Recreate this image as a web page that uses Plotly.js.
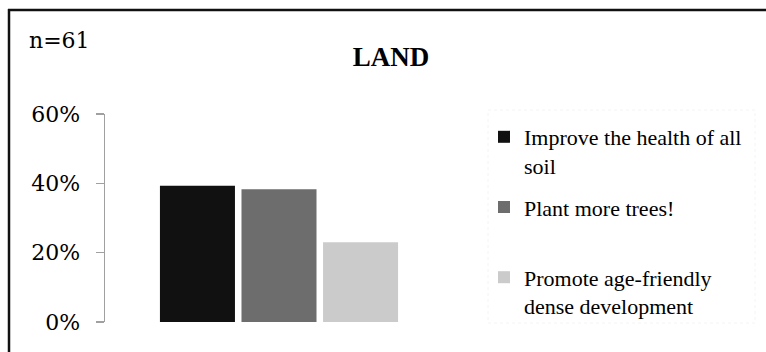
<!DOCTYPE html>
<html>
<head>
<meta charset="utf-8">
<script src="https://cdn.plot.ly/plotly-3.0.1.min.js"></script>
<style>
  html, body { margin: 0; padding: 0; background: #fff; }
  #chart { width: 766px; height: 352px; }
</style>
</head>
<body>
<div id="chart"></div>
<script>
// ---- data ----
var categoryName = ['LAND'];
var seriesNames = ['Improve the health of all soil', 'Plant more trees!', 'Promote age-friendly dense development'];
var legendLabels = ['Improve the health of all<br>soil', 'Plant more trees!<br> ', 'Promote age-friendly<br>dense development'];
var seriesValues = [0.393, 0.383, 0.23];
var seriesColors = ['#111111', '#6d6d6d', '#cbcbcb'];
var tickValues = [0, 0.2, 0.4, 0.6];
var tickLabels = ['0%', '20%', '40%', '60%'];
var sampleNote = 'n=61';
var chartTitle = 'LAND';

// ---- geometry ----
var W = 766, H = 352;
var M = { l: 105, r: 313, t: 114, b: 30 };
var PW = W - M.l - M.r, PH = H - M.t - M.b;
function px2x(p) { return (p - M.l) / PW; }
function py2y(p) { return (H - M.b - p) / PH; }

var traces = seriesNames.map(function (n, i) {
  return {
    type: 'bar',
    name: legendLabels[i],
    x: categoryName,
    y: [seriesValues[i]],
    marker: { color: seriesColors[i], line: { width: 0 } },
    legendgroup: 'g' + i,
    hovertext: n,
    hoverinfo: 'text+y'
  };
});

var serifText = 'Liberation Serif, Times New Roman, serif';
var serifNum = 'DejaVu Serif, serif';

var layout = {
  width: W, height: H,
  margin: M,
  paper_bgcolor: '#ffffff',
  plot_bgcolor: '#ffffff',
  barmode: 'group',
  bargap: 0.297,
  bargroupgap: 0.08,
  showlegend: true,
  title: {
    text: '<b>' + chartTitle + '</b>',
    font: { family: serifText, size: 27, color: '#000' },
    x: 391 / W, xanchor: 'center',
    y: 1 - 57 / H, yanchor: 'middle'
  },
  xaxis: {
    visible: false,
    showgrid: false, zeroline: false, showline: false, showticklabels: false
  },
  yaxis: {
    range: [0, 0.6],
    tickvals: tickValues,
    ticktext: tickLabels,
    ticks: 'outside',
    ticklen: 8,
    tickwidth: 1.5,
    tickcolor: '#a0a0a0',
    showline: true,
    linecolor: '#a0a0a0',
    linewidth: 1.5,
    showgrid: false,
    zeroline: false,
    ticklabelstandoff: 11,
    tickfont: { family: serifNum, size: 22, color: '#000' }
  },
  legend: {
    x: px2x(484), xanchor: 'left',
    y: py2y(116), yanchor: 'top',
    font: { family: serifText, size: 22, color: '#000' },
    traceorder: 'grouped',
    tracegroupgap: 10,
    valign: 'top',
    bgcolor: 'rgba(0,0,0,0)',
    borderwidth: 0
  },
  annotations: [{
    text: sampleNote,
    xref: 'paper', yref: 'paper',
    x: px2x(27), xanchor: 'left',
    y: py2y(41), yanchor: 'middle',
    showarrow: false,
    font: { family: serifNum, size: 22, color: '#000' }
  }],
  shapes: [
    { type: 'line', xref: 'paper', yref: 'paper',
      x0: px2x(9), x1: px2x(9), y0: py2y(400), y1: py2y(9),
      line: { color: '#111', width: 2.5 } },
    { type: 'line', xref: 'paper', yref: 'paper',
      x0: px2x(8), x1: px2x(900), y0: py2y(10), y1: py2y(10),
      line: { color: '#111', width: 2.5 } },
    { type: 'rect', xref: 'paper', yref: 'paper',
      x0: px2x(488), x1: px2x(755), y0: py2y(323), y1: py2y(110),
      line: { color: '#f4f4f4', width: 1, dash: 'dot' } }
  ]
};

Plotly.newPlot('chart', traces, layout, { displayModeBar: false, staticPlot: true });
</script>
</body>
</html>
